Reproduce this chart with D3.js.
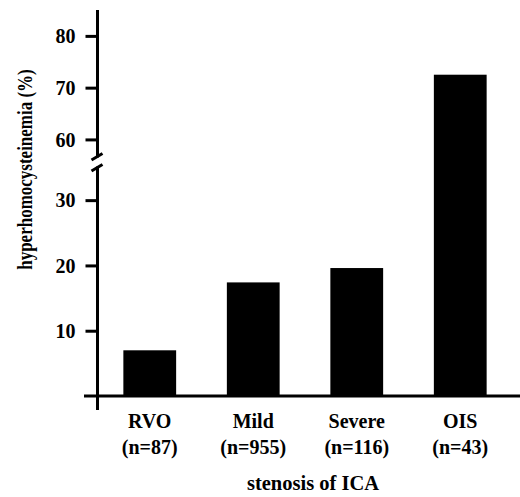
<!DOCTYPE html>
<html><head><meta charset="utf-8">
<script src="https://cdn.jsdelivr.net/npm/d3@7"></script>
<style>body{margin:0;background:#fff}svg{display:block}text{font-family:"Liberation Serif","Times New Roman",serif;font-weight:bold;fill:#000}</style>
</head><body>
<script>
const categories = ["RVO", "Mild", "Severe", "OIS"];
const sampleSizes = ["(n=87)", "(n=955)", "(n=116)", "(n=43)"];
const values = [7.0, 17.4, 19.6, 72.5];
const lowerTicks = [10, 20, 30];
const upperTicks = [60, 70, 80];
const yTitle = "hyperhomocysteinemia (%)";
const xTitle = "stenosis of ICA";

const W = 520, H = 497;
const axX = 97.5;
const svg = d3.select("body").append("svg").attr("width", W).attr("height", H);

const x = d3.scaleBand().domain(categories).range([98, 512]).paddingInner(0.49).paddingOuter(0.245);
const yLow = d3.scaleLinear().domain([0, 35]).range([396, 167.5]);
const yUp = d3.scaleLinear().domain([56.7, 85]).range([156.5, 10]);
const yVal = v => v > 35 ? yUp(v) : yLow(v);

// bars
svg.append("g").selectAll("rect").data(values).join("rect")
  .attr("x", (d, i) => x(categories[i]))
  .attr("width", x.bandwidth())
  .attr("y", d => yVal(d))
  .attr("height", d => yLow(0) - yVal(d))
  .attr("fill", "#000");

// axes
const axLow = d3.axisLeft(yLow).tickValues(lowerTicks).tickSize(12).tickSizeOuter(0).tickPadding(10);
const axUp = d3.axisLeft(yUp).tickValues(upperTicks).tickSize(12).tickSizeOuter(0).tickPadding(10);
[axLow, axUp].forEach(ax => {
  const g = svg.append("g").attr("transform", `translate(${axX},0)`).call(ax);
  g.select(".domain").remove();
  g.selectAll(".tick line").attr("stroke", "#000").attr("stroke-width", 3);
  g.selectAll(".tick text").style("font-size", "20px").attr("dy", "0.34em");
});
// axis lines with break
svg.append("line").attr("x1", axX).attr("x2", axX).attr("y1", yUp.range()[1]).attr("y2", yUp.range()[0] + 1).attr("stroke", "#000").attr("stroke-width", 3);
svg.append("line").attr("x1", axX).attr("x2", axX).attr("y1", yLow.range()[1] - 1).attr("y2", 410).attr("stroke", "#000").attr("stroke-width", 3);
// break slashes
[yUp.range()[0], yLow.range()[1]].forEach(yy => {
  svg.append("line").attr("x1", axX - 6).attr("x2", axX + 5).attr("y1", yy + 3.5).attr("y2", yy - 3)
    .attr("stroke", "#000").attr("stroke-width", 3);
});
// x axis
svg.append("line").attr("x1", 84).attr("x2", 520).attr("y1", yLow(0)).attr("y2", yLow(0)).attr("stroke", "#000").attr("stroke-width", 3);

// x labels
const lab = svg.append("g").selectAll("g").data(categories).join("g")
  .attr("transform", d => `translate(${x(d) + x.bandwidth() / 2},0)`);
lab.append("text").attr("y", 428).attr("text-anchor", "middle").style("font-size", "20px").text(d => d);
lab.append("text").attr("y", 454).attr("text-anchor", "middle").style("font-size", "20px").text((d, i) => sampleSizes[i]);

svg.append("text").attr("x", 313).attr("y", 490).attr("text-anchor", "middle").style("font-size", "20.5px").text(xTitle);
svg.append("text").attr("transform", "translate(31.5,169.5) scale(1.2,1) rotate(-90)").attr("text-anchor", "middle").style("font-size", "17px").text(yTitle);
</script>
</body></html>
